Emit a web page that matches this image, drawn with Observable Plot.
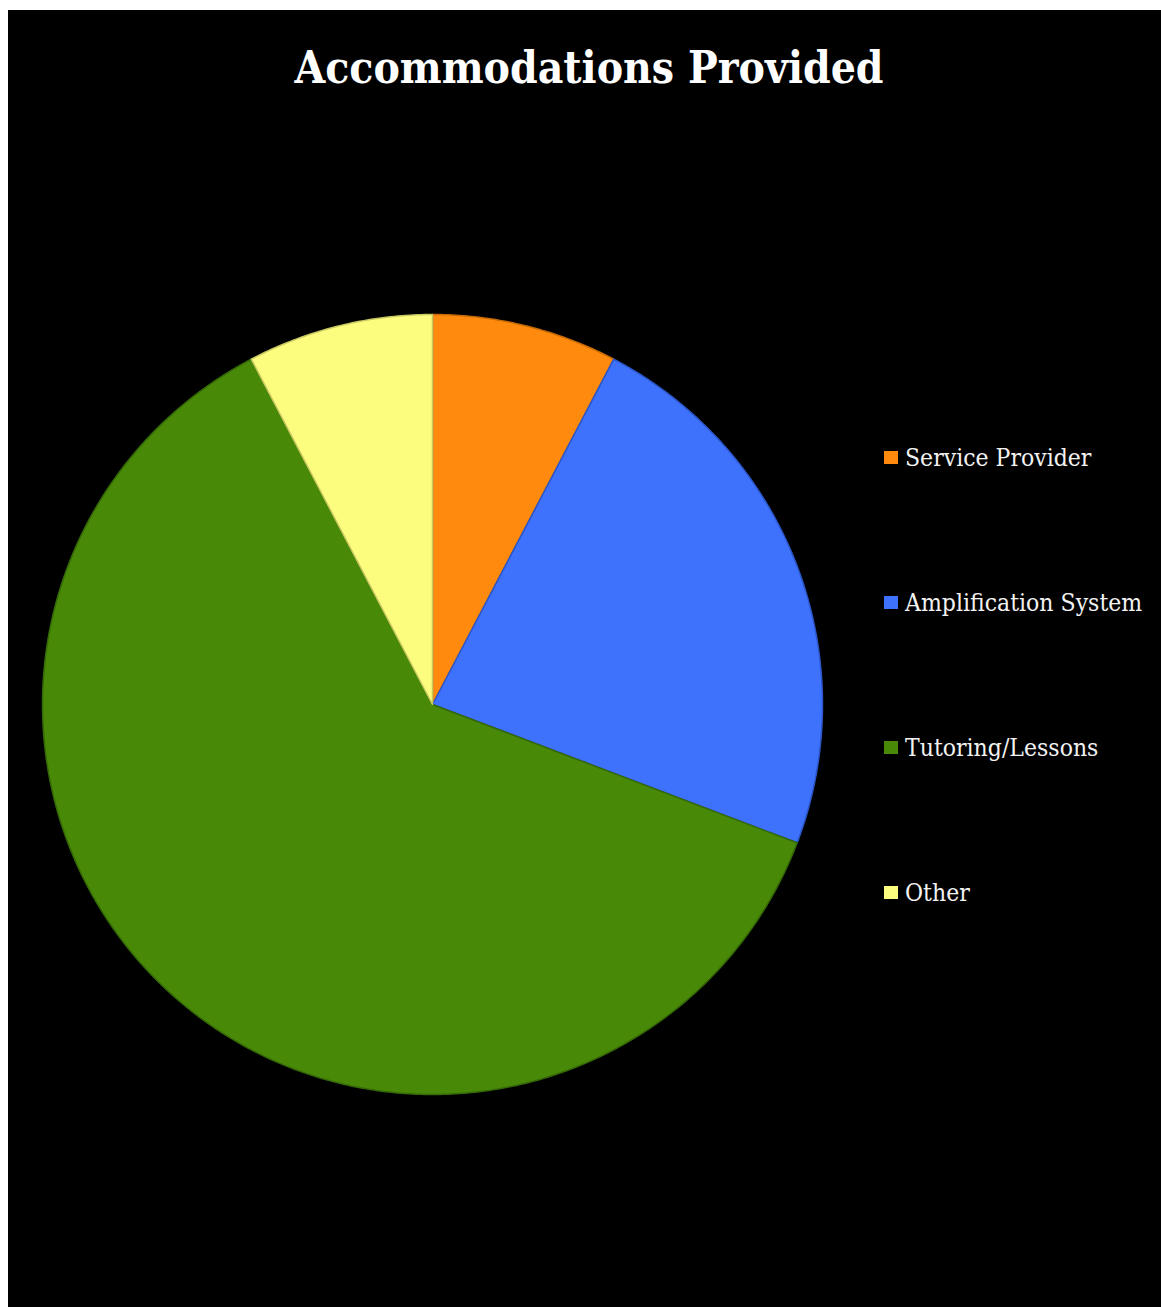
<!DOCTYPE html>
<html>
<head>
<meta charset="utf-8">
<script src="https://cdn.jsdelivr.net/npm/d3@7"></script>
<script src="https://cdn.jsdelivr.net/npm/@observablehq/plot@0.6"></script>
<style>
  html, body { margin: 0; padding: 0; background: #ffffff; }
  #frame { position: absolute; left: 8px; top: 10px; width: 1153px; height: 1297px; background: #000; overflow: hidden; }
  #title { position: absolute; left: 0; width: 1162px; top: 32px; text-align: center; color: #fff;
           font-family: "DejaVu Serif Condensed", "DejaVu Serif", serif; font-weight: bold; font-size: 44px; }
  #chart { position: absolute; left: 0; top: 0; }
  .legend-item { position: absolute; left: 876px; color: #f2f2f2; font-family: "DejaVu Serif Condensed", "DejaVu Serif", serif; font-size: 24.5px; white-space: nowrap; display: flex; align-items: center; }
  .legend-item .sw { width: 14px; height: 13px; margin-right: 7px; display: inline-block; }
</style>
</head>
<body>
<div id="frame">
  <div id="chart"></div>
  <div id="title">Accommodations Provided</div>
  <div id="legend"></div>
</div>
<script>
const categories = ["Service Provider", "Amplification System", "Tutoring/Lessons", "Other"];
const values = [1, 3, 8, 1];
const colors = ["#ff8a0d", "#3e72fc", "#488a08", "#fcfc7e"];
const edgeColors = ["#c86a05", "#2c56c8", "#356806", "#c8c860"];

// Build slices from the data with d3.pie (angles clockwise from 12 o'clock)
const arcs = d3.pie().sort(null)(values);
const features = arcs.map((a, i) => {
  const ring = [[0, 0]];
  const steps = Math.max(8, Math.ceil((a.endAngle - a.startAngle) / 0.01));
  for (let k = 0; k <= steps; k++) {
    const t = a.startAngle + (a.endAngle - a.startAngle) * k / steps;
    ring.push([Math.sin(t), Math.cos(t)]);
  }
  ring.push([0, 0]);
  return {type: "Feature", properties: {name: categories[i], edge: edgeColors[i]}, geometry: {type: "Polygon", coordinates: [ring]}};
});

const W = 1153, H = 1297;
const plot = Plot.plot({
  width: W,
  height: H,
  marginLeft: 34,
  marginRight: 339,
  marginTop: 304,
  marginBottom: 213,
  style: {background: "transparent"},
  projection: {type: "reflect-y", domain: {type: "MultiPoint", coordinates: [[-1, -1], [1, 1]]}},
  color: {domain: categories, range: colors},
  marks: [
    Plot.geo(features, {fill: d => d.properties.name, stroke: d => d.properties.edge, strokeWidth: 1.5, strokeLinejoin: "round"})
  ]
});
document.getElementById("chart").appendChild(plot);

// Legend
const legend = document.getElementById("legend");
categories.forEach((c, i) => {
  const div = document.createElement("div");
  div.className = "legend-item";
  div.style.top = (433 + i * 145) + "px";
  const sw = document.createElement("span");
  sw.className = "sw";
  sw.style.background = colors[i];
  div.appendChild(sw);
  div.appendChild(document.createTextNode(c));
  legend.appendChild(div);
});
</script>
</body>
</html>
